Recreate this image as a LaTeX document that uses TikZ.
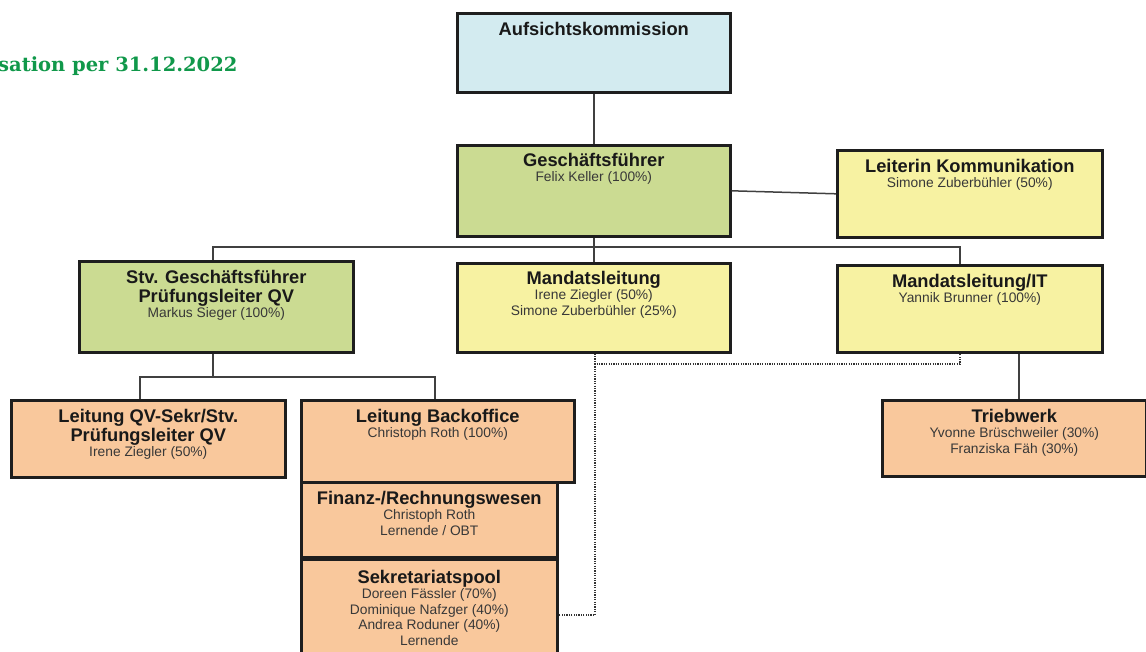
\documentclass[tikz,border=0pt]{standalone}
\usepackage{fontspec}
\setmainfont{Liberation Sans}
\newfontfamily\titlefont{DejaVu Serif}
\definecolor{cblue}{HTML}{D3EBF0}
\definecolor{cgreen}{HTML}{CBDB92}
\definecolor{cyellow}{HTML}{F7F2A2}
\definecolor{corange}{HTML}{F9C89C}
\definecolor{cline}{HTML}{1E1E1E}
\definecolor{ctitle}{HTML}{10984A}
\newcommand\subt{\fontsize{13.8}{16}\selectfont\mdseries\color{black!78}}
\begin{document}
\begin{tikzpicture}[x=1pt,y=-1pt,
  box/.style={draw=cline,line width=2.6pt,anchor=north west,inner sep=0pt},
  hd/.style={anchor=north,align=center,font=\fontsize{18.3}{19}\selectfont\bfseries,text=black!90,inner sep=0pt},
  conn/.style={draw=black!75,line width=1.5pt},
  dotc/.style={draw=black!80,line width=1.6pt,dash pattern=on 1.2pt off 1.2pt}]
\useasboundingbox (0,0) rectangle (1146,651);
% title
\node[anchor=west,text=ctitle,font=\titlefont\fontsize{19.5}{22}\selectfont\bfseries,inner sep=0pt] (ttl) at (-2,66) {sation per 31.12.2022};
% boxes
\node[box,fill=cblue,minimum width=273pt,minimum height=79pt] (ak) at (456,12) {};
\node[box,fill=cgreen,minimum width=273pt,minimum height=91pt] (gf) at (456,144) {};
\node[box,fill=cyellow,minimum width=265pt,minimum height=87pt] (lk) at (836,149) {};
\node[box,fill=cgreen,minimum width=274pt,minimum height=91pt] (stv) at (78,260) {};
\node[box,fill=cyellow,minimum width=273pt,minimum height=89pt] (ml) at (456,262) {};
\node[box,fill=cyellow,minimum width=265pt,minimum height=87pt] (mit) at (836,264) {};
\node[box,fill=corange,minimum width=274pt,minimum height=77pt] (lqv) at (10,399) {};
\node[box,fill=corange,minimum width=256pt,minimum height=75pt] (fin) at (300,481) {};
\node[box,fill=corange,minimum width=256pt,minimum height=100pt] (sek) at (300,558) {};
\node[box,fill=corange,minimum width=273pt,minimum height=82pt] (lbo) at (300,399) {};
\node[box,fill=corange,minimum width=264pt,minimum height=76pt] (tw) at (881,399) {};
% texts
\node[hd] at ([yshift=-10pt]ak.north) {Aufsichtskommission};
\node[hd] at ([yshift=-9pt]gf.north) {Geschäftsführer\\[-3.6pt]{\subt Felix Keller (100\%)}};
\node[hd] at ([yshift=-10pt]lk.north) {Leiterin Kommunikation\\[-3.6pt]{\subt Simone Zuberbühler (50\%)}};
\node[hd] at ([yshift=-10pt]stv.north) {Stv. Geschäftsführer\\Prüfungsleiter QV\\[-3.6pt]{\subt Markus Sieger (100\%)}};
\node[hd] at ([yshift=-9pt]ml.north) {Mandatsleitung\\[-3.6pt]{\subt Irene Ziegler (50\%)}\\[-3.5pt]{\subt Simone Zuberbühler (25\%)}};
\node[hd] at ([yshift=-10pt]mit.north) {Mandatsleitung/IT\\[-3.6pt]{\subt Yannik Brunner (100\%)}};
\node[hd] at ([yshift=-10pt]lqv.north) {Leitung QV-Sekr/Stv.\\Prüfungsleiter QV\\[-3.6pt]{\subt Irene Ziegler (50\%)}};
\node[hd] at ([yshift=-10pt]lbo.north) {Leitung Backoffice\\[-3.6pt]{\subt Christoph Roth (100\%)}};
\node[hd] at ([yshift=-10pt]fin.north) {Finanz-/Rechnungswesen\\[-3.6pt]{\subt Christoph Roth}\\[-3.5pt]{\subt Lernende / OBT}};
\node[hd] at ([yshift=-12pt]sek.north) {Sekretariatspool\\[-3.6pt]{\subt Doreen Fässler (70\%)}\\[-3.5pt]{\subt Dominique Nafzger (40\%)}\\[-3.5pt]{\subt Andrea Roduner (40\%)}\\[-3.5pt]{\subt Lernende}};
\node[hd] at ([yshift=-10pt]tw.north) {Triebwerk\\[-3.6pt]{\subt Yvonne Brüschweiler (30\%)}\\[-3.5pt]{\subt Franziska Fäh (30\%)}};
% connectors
\draw[conn] (ak.south) -- (gf.north);
\draw[conn] (gf.east) -- (lk.west);
\draw[conn] (gf.south) -- (ml.north);
\coordinate (busl) at (213,247);
\coordinate (busr) at (960,247);
\draw[conn] (stv.north -| busl) -- (busl) -- (busr) -- (mit.north -| busr);
\coordinate (bus2l) at (140,377);
\coordinate (bus2r) at (435,377);
\coordinate (bus2m) at (213,377);
\draw[conn] (stv.south -| bus2m) -- (bus2m);
\draw[conn] (lqv.north -| bus2l) -- (bus2l) -- (bus2r) -- (lbo.north -| bus2r);
\coordinate (twx) at (1019,380);
\draw[conn] (mit.south -| twx) -- (tw.north -| twx);
% dotted
\coordinate (d1) at (595,364);
\coordinate (d2) at (960,364);
\coordinate (d3) at (595,615);
\draw[dotc] (ml.south -| d1) -- (d1) -- (d2) -- (mit.south -| d2);
\draw[dotc] (d1) -- (d3) -- (sek.east |- d3);
\end{tikzpicture}
\end{document}
